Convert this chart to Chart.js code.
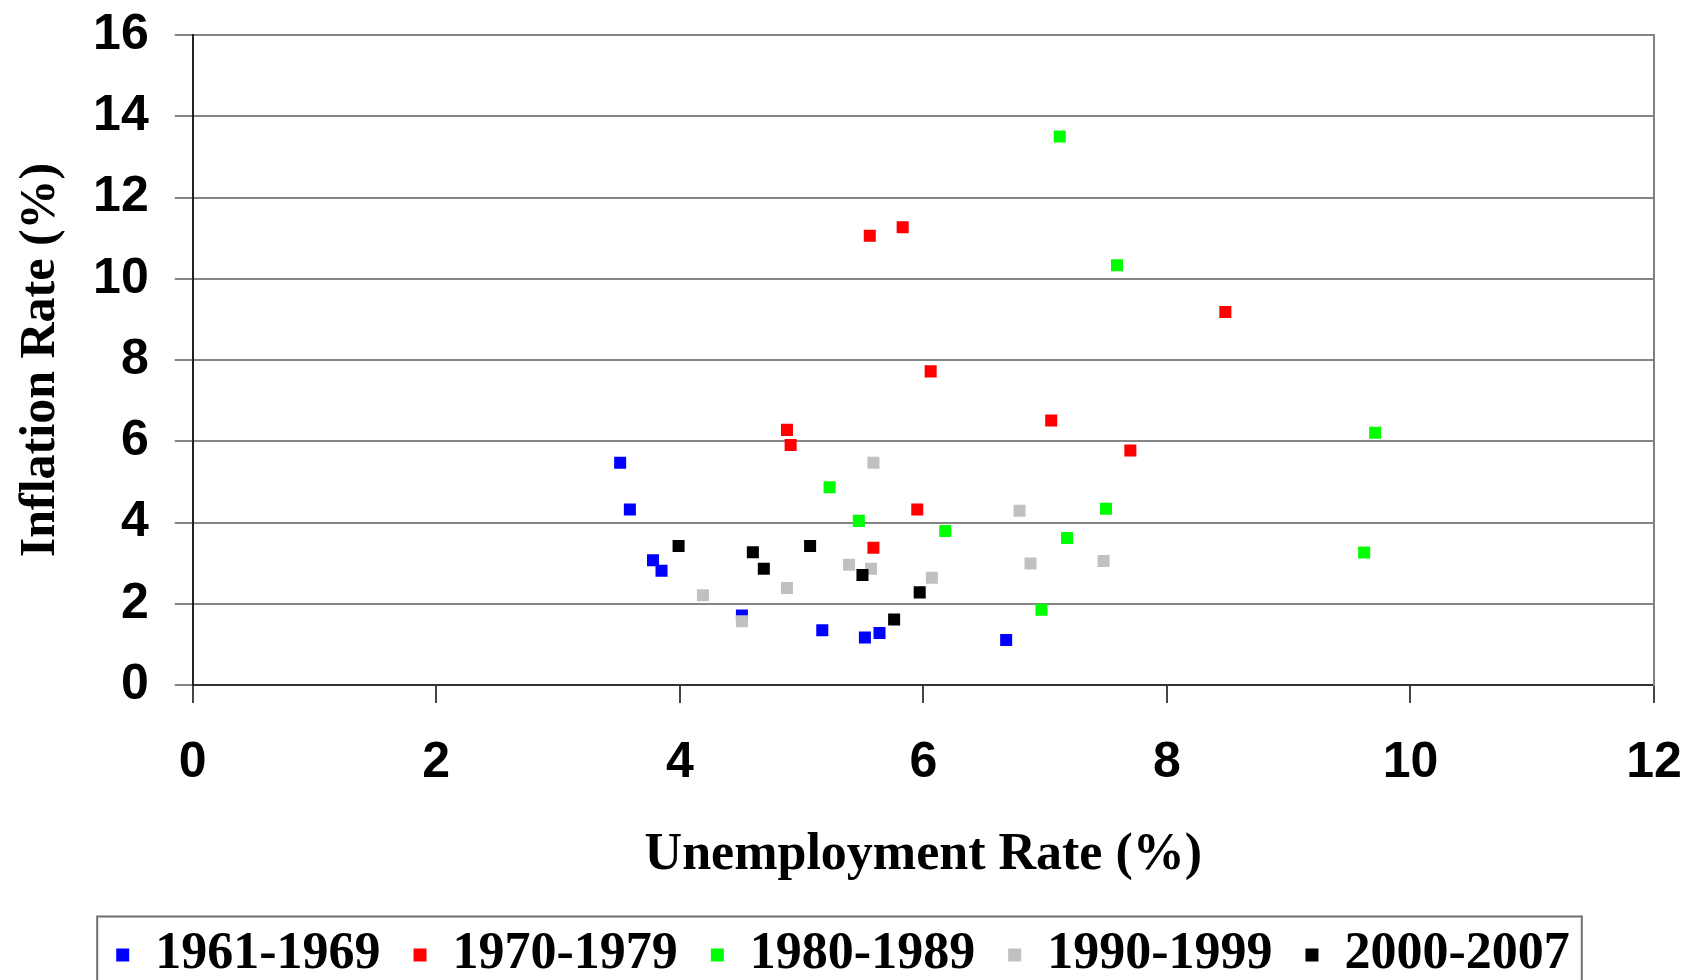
<!DOCTYPE html>
<html>
<head>
<meta charset="utf-8">
<title>Inflation vs Unemployment</title>
<script src="https://cdn.jsdelivr.net/npm/chart.js@4.4.1/dist/chart.umd.min.js"></script>
<style>
    html, body { margin: 0; padding: 0; background: #fff; overflow: hidden; }
    #wrap { width: 1686px; height: 980px; position: relative; }
</style>
</head>
<body>
<div id="wrap"><canvas id="phillips-chart"></canvas></div>
<script>
// decades shown in the legend
const periods = ['1961-1969', '1970-1979', '1980-1989', '1990-1999', '2000-2007'];
const periodColors = ['#0000ff', '#ff0000', '#00ff00', '#c0c0c0', '#000000'];

// unemployment rate (%) and inflation rate (%) per year, by decade
const unemp60s = [6.68, 5.52, 5.64, 5.17, 4.51, 3.78, 3.85, 3.59, 3.51];
const infl60s  = [1.11, 1.17, 1.28, 1.35, 1.71, 3.07, 2.81, 4.32, 5.47];

const unemp70s = [5.56, 5.83, 8.48, 6.06, 4.88, 4.91, 7.05, 7.70, 5.95, 5.59];
const infl70s  = [11.06, 11.27, 9.18, 7.72, 6.28, 5.91, 6.51, 5.77, 4.32, 3.38];

const unemp80s = [7.12, 7.59, 5.23, 5.47, 6.18, 7.50, 7.18, 6.97, 9.71, 9.62];
const infl80s  = [13.50, 10.33, 4.87, 4.04, 3.79, 4.34, 3.62, 1.85, 6.21, 3.26];

const unemp90s = [5.59, 6.79, 6.88, 7.48, 5.39, 5.57, 6.07, 4.88, 4.19, 4.51];
const infl90s  = [5.47, 4.29, 2.99, 3.05, 2.96, 2.86, 2.64, 2.39, 2.21, 1.57];

const unemp00s = [3.99, 4.60, 4.69, 5.07, 5.50, 5.97, 5.76];
const infl00s  = [3.42, 3.27, 2.86, 3.42, 2.71, 2.28, 1.61];

const xTicks = [0, 2, 4, 6, 8, 10, 12];
const yTicks = [0, 2, 4, 6, 8, 10, 12, 14, 16];

const unempSeries = [unemp60s, unemp70s, unemp80s, unemp90s, unemp00s];
const inflSeries = [infl60s, infl70s, infl80s, infl90s, infl00s];

const serifFont = '"Times New Roman", "Liberation Serif", serif';
const sansFont = 'Arial, "Liberation Sans", sans-serif';

function toPoints(xs, ys) {
    return xs.map((x, i) => ({ x: x, y: ys[i] }));
}

// frame around the legend row, like the original
const legendFrame = {
    id: 'legendFrame',
    afterDraw(chart) {
        const boxes = chart.legend && chart.legend.legendHitBoxes;
        if (!boxes || !boxes.length) return;
        const first = boxes[0];
        const last = boxes[boxes.length - 1];
        const ctx = chart.ctx;
        ctx.save();
        ctx.strokeStyle = '#6e6e6e';
        ctx.lineWidth = 2;
        const left = first.left - 19;
        const right = last.left + last.width + 12;
        const top = first.top - 12.5;
        ctx.strokeRect(left, top, right - left, chart.height - top + 10);
        ctx.restore();
    }
};

const datasets = periods.map((label, i) => ({
    label: label,
    data: toPoints(unempSeries[i], inflSeries[i]),
    backgroundColor: periodColors[i],
    borderColor: periodColors[i],
    pointStyle: 'rect',
    pointRadius: 8.5,
    pointHoverRadius: 8.5,
    pointBorderWidth: 0,
    order: periods.length - i
}));

const ctx = document.getElementById('phillips-chart').getContext('2d');
new Chart(ctx, {
    type: 'scatter',
    data: { datasets: datasets },
    options: {
        responsive: true,
        maintainAspectRatio: false,
        animation: false,
        layout: { padding: { top: 35, right: 0, bottom: 0, left: 0 } },
        plugins: {
            tooltip: { enabled: false },
            legend: {
                position: 'bottom',
                maxHeight: 84,
                labels: {
                    usePointStyle: true,
                    boxWidth: 13,
                    boxHeight: 13,
                    padding: 33,
                    color: '#000',
                    font: { family: serifFont, size: 52, weight: 'bold' },
                    sort: (a, b) => a.datasetIndex - b.datasetIndex
                }
            }
        },
        scales: {
            x: {
                type: 'linear',
                min: 0,
                max: 12,
                afterBuildTicks: scale => { scale.ticks = xTicks.map(v => ({ value: v })); },
                afterFit: scale => {
                    scale.height = 211;
                    scale.paddingLeft = 0;
                    scale.paddingRight = 32;
                },
                grid: { drawOnChartArea: false, tickLength: 18, color: '#444', lineWidth: 2 },
                border: { color: '#333', width: 2 },
                ticks: {
                    padding: 30,
                    color: '#000',
                    font: { family: sansFont, size: 50, weight: 'bold' }
                },
                title: {
                    display: true,
                    text: 'Unemployment Rate (%)',
                    color: '#000',
                    padding: { top: 0, bottom: 9 },
                    font: { family: serifFont, size: 52, weight: 'bold' }
                }
            },
            y: {
                type: 'linear',
                min: 0,
                max: 16,
                afterBuildTicks: scale => { scale.ticks = yTicks.map(v => ({ value: v })); },
                afterFit: scale => {
                    scale.width = 192.7;
                    scale.paddingTop = 0;
                    scale.paddingBottom = 0;
                },
                grid: { color: '#858585', lineWidth: 2, tickLength: 18 },
                border: { color: '#222', width: 2 },
                ticks: {
                    padding: 26,
                    color: '#000',
                    font: { family: sansFont, size: 50, weight: 'bold' }
                },
                title: {
                    display: true,
                    text: 'Inflation Rate (%)',
                    color: '#000',
                    padding: { top: 11, bottom: 0 },
                    font: { family: serifFont, size: 50, weight: 'bold' }
                }
            },
            yRight: {
                type: 'linear',
                position: 'right',
                min: 0,
                max: 16,
                afterFit: scale => {
                    scale.width = 0;
                    scale.paddingTop = 0;
                    scale.paddingBottom = 0;
                },
                ticks: { display: false },
                grid: { drawOnChartArea: false, drawTicks: false },
                border: { color: '#808080', width: 2 }
            }
        }
    },
    plugins: [legendFrame]
});
</script>
</body>
</html>
